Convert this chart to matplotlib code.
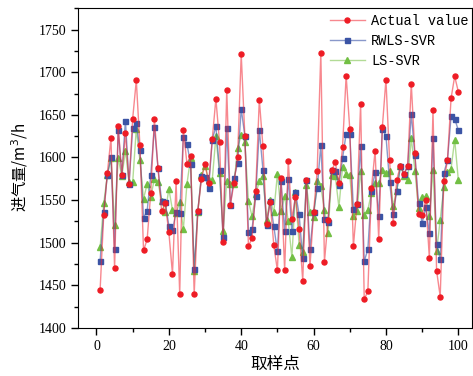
import numpy as np
import matplotlib
matplotlib.use('Agg')
import matplotlib.pyplot as plt
from matplotlib.ticker import MultipleLocator

plt.rcParams['font.family'] = ['Liberation Serif', 'Noto Sans CJK SC']
plt.rcParams['axes.unicode_minus'] = False

# 数据
samples = np.arange(1, 101)
actual = [
    1444.7, 1532.8, 1581.7, 1622.9, 1469.7, 1636.6, 1579.8, 1628.7, 1568.8, 1645.6,
    1690.6, 1614.3, 1490.9, 1503.8, 1558.6, 1645.2, 1587.6, 1536.7, 1546.1, 1512.0,
    1463.5, 1572.0, 1439.6, 1632.7, 1592.7, 1602.1, 1439.6, 1536.7, 1574.7, 1592.7,
    1570.0, 1621.7, 1669.1, 1617.8, 1500.3, 1679.7, 1544.1, 1570.0, 1601.0, 1721.2,
    1625.6, 1495.6, 1505.8, 1560.6, 1667.9, 1613.1, 1521.4, 1547.7, 1497.1, 1467.4,
    1575.9, 1467.4, 1596.2, 1528.1, 1553.5, 1516.0, 1455.6, 1573.1, 1472.1, 1535.9,
    1584.1, 1723.2, 1477.6, 1526.1, 1584.9, 1594.3, 1570.0, 1611.9, 1696.1, 1633.5,
    1495.6, 1545.3, 1662.8, 1433.7, 1442.7, 1564.1, 1608.0, 1503.8, 1635.4, 1691.4,
    1597.4, 1523.0, 1573.9, 1590.4, 1580.9, 1589.6, 1686.7, 1605.2, 1534.0, 1532.0,
    1550.4, 1481.9, 1655.4, 1467.0, 1436.8, 1572.0, 1596.6, 1669.5, 1695.3, 1677.3]
rwls_svr = [
    1478.7, 1535.9, 1580.0, 1600.0, 1492.8, 1632.7, 1579.8, 1643.2, 1568.8, 1634.6,
    1640.0, 1609.2, 1529.3, 1537.5, 1579.4, 1635.8, 1587.6, 1548.5, 1547.3, 1519.9,
    1514.4, 1535.5, 1534.7, 1624.0, 1616.0, 1592.7, 1468.9, 1537.5, 1577.8, 1577.0,
    1564.1, 1620.9, 1636.6, 1584.9, 1506.5, 1634.6, 1544.5, 1575.5, 1593.5, 1657.0,
    1625.6, 1512.4, 1516.3, 1554.3, 1632.7, 1585.7, 1520.6, 1548.5, 1519.5, 1489.7,
    1572.7, 1514.0, 1575.1, 1513.2, 1559.0, 1533.2, 1481.5, 1573.1, 1492.4, 1535.5,
    1563.7, 1614.3, 1528.1, 1524.6, 1584.9, 1583.7, 1567.3, 1599.0, 1628.0, 1628.0,
    1539.8, 1545.3, 1613.9, 1478.0, 1492.4, 1561.0, 1582.5, 1530.8, 1633.8, 1625.6,
    1571.6, 1533.6, 1561.0, 1589.6, 1580.9, 1589.6, 1651.0, 1603.3, 1546.5, 1523.0,
    1541.4, 1511.2, 1622.5, 1498.7, 1480.6, 1581.7, 1596.6, 1648.3, 1645.6, 1631.9]
ls_svr = [
    1494.4, 1546.1, 1579.4, 1599.4, 1521.0, 1599.4, 1577.8, 1608.0, 1570.8, 1570.8,
    1633.8, 1596.6, 1551.6, 1568.8, 1553.9, 1574.7, 1570.8, 1549.2, 1535.5, 1563.0,
    1538.3, 1534.7, 1547.3, 1516.0, 1568.8, 1599.4, 1466.2, 1535.9, 1579.4, 1590.4,
    1574.0, 1573.9, 1624.8, 1581.7, 1513.2, 1572.7, 1568.8, 1568.8, 1610.7, 1626.8,
    1617.8, 1548.5, 1530.8, 1556.7, 1572.0, 1578.6, 1526.9, 1550.4, 1535.5, 1580.6,
    1537.5, 1554.3, 1524.9, 1482.6, 1559.4, 1497.1, 1488.9, 1567.6, 1535.9, 1529.6,
    1572.0, 1566.0, 1538.7, 1511.2, 1579.4, 1578.6, 1541.4, 1588.4, 1580.6, 1579.8,
    1530.8, 1536.7, 1583.7, 1532.8, 1538.7, 1558.6, 1570.0, 1570.0, 1584.9, 1581.7,
    1583.7, 1542.6, 1561.0, 1590.4, 1577.8, 1573.1, 1622.9, 1584.5, 1540.6, 1553.1,
    1554.3, 1530.8, 1585.7, 1489.7, 1526.9, 1564.9, 1582.5, 1586.8, 1621.0, 1573.9]

fig = plt.figure(figsize=(4.73, 3.76), dpi=100)
ax = fig.add_axes([0.165, 0.128, 0.833, 0.852])

# 线条半透明，标记实心
p3, = ax.plot(samples, ls_svr, color=(0.45, 0.75, 0.25, 0.55), lw=1.0, marker='^', ms=4,
              mfc='#72bf44', mec='#72bf44', label='LS-SVR', zorder=2)
p2, = ax.plot(samples, rwls_svr, color=(0.23, 0.33, 0.66, 0.6), lw=1.0, marker='s', ms=3.6,
              mfc='#3b54a5', mec='#3b54a5', label='RWLS-SVR', zorder=3)
p1, = ax.plot(samples, actual, color=(0.95, 0.15, 0.2, 0.55), lw=1.0, marker='o', ms=3.6,
              mfc='#ee1c25', mec='#ee1c25', label='Actual value', zorder=4)

ax.set_xlim(-5.1, 103.8)
ax.set_ylim(1400, 1776)
ax.xaxis.set_major_locator(MultipleLocator(20))
ax.xaxis.set_minor_locator(MultipleLocator(10))
ax.yaxis.set_minor_locator(MultipleLocator(25))
ax.set_yticks(np.arange(1400, 1751, 50))
ax.tick_params(which='major', direction='out', length=5, width=1, labelsize=10)
ax.tick_params(which='minor', direction='out', length=3, width=1)
ax.tick_params(top=False, right=False, which='both')

ax.set_xlabel('取样点', family=['Noto Sans CJK SC'], fontsize=12, labelpad=2)
ax.set_ylabel('进气量/m$^3$/h', family=['Noto Sans CJK SC', 'DejaVu Sans'], fontsize=11, labelpad=6)

leg = ax.legend(handles=[p1, p2, p3], loc='upper left', bbox_to_anchor=(0.635, 0.985),
                frameon=False, prop={'family': 'Liberation Mono', 'size': 9.8},
                handlelength=2.6, handletextpad=0.45, labelspacing=0.45,
                borderaxespad=0, borderpad=0.1)

fig.savefig('out.png', dpi=100)
